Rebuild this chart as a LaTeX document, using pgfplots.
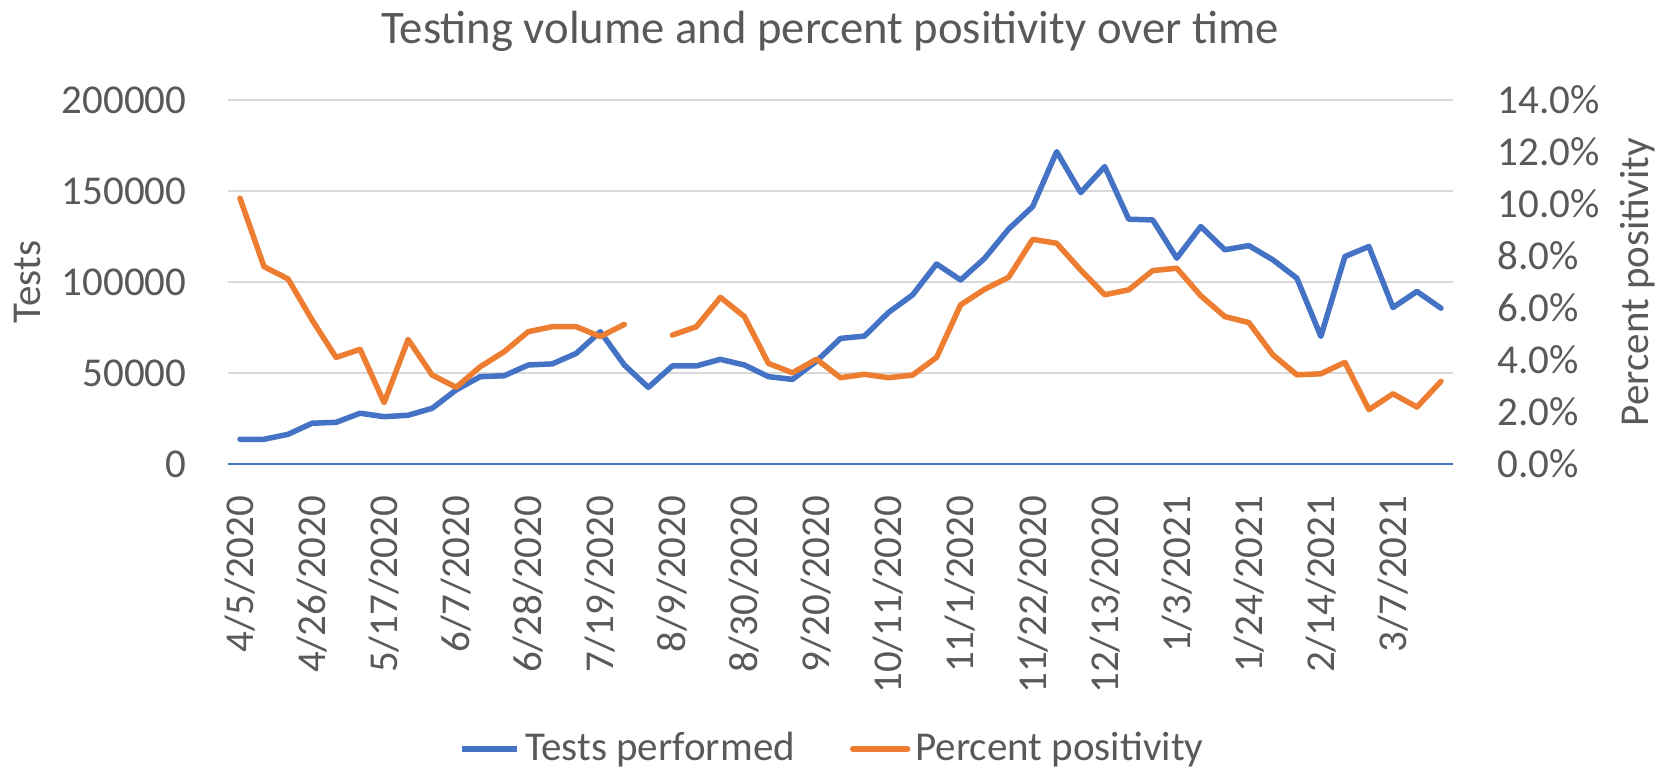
\documentclass[border=0pt]{standalone}
\usepackage{fontspec}
\setmainfont{Carlito}
\usepackage{pgfplots}
\pgfplotsset{compat=1.18}
\usepackage{pgfplotstable}
\definecolor{cblue}{HTML}{4472C4}
\definecolor{corange}{HTML}{ED7D31}
\definecolor{cgrid}{HTML}{D9D9D9}
\definecolor{ctext}{HTML}{595959}

\pgfplotstableread{
idx tests pos
0 13600 10.22
1 13600 7.59
2 16300 7.12
3 22400 5.54
4 22900 4.10
5 27900 4.41
6 26000 2.36
7 26800 4.79
8 30600 3.42
9 40700 2.95
10 48000 3.74
11 48500 4.32
12 54400 5.09
13 55000 5.28
14 60800 5.28
15 72700 4.90
16 54400 5.37
17 42100 nan
18 53900 4.96
19 53900 5.28
20 57500 6.41
21 54400 5.67
22 48000 3.87
23 46500 3.51
24 56500 4.03
25 69000 3.32
26 70300 3.45
27 83300 3.32
28 92900 3.42
29 109900 4.10
30 101100 6.12
31 113000 6.72
32 129100 7.18
33 141400 8.64
34 171600 8.49
35 149100 7.46
36 163400 6.51
37 134500 6.70
38 134100 7.44
39 113100 7.53
40 130500 6.47
41 117700 5.67
42 120000 5.44
43 112200 4.20
44 102100 3.43
45 70100 3.47
46 114000 3.91
47 119500 2.09
48 86000 2.70
49 94800 2.19
50 85600 3.18
}\datatable

\begin{document}
\begin{tikzpicture}[x=1pt,y=1pt]
\begin{axis}[
  scale only axis, width=367.5pt, height=109.2pt,
  at={(68.4pt,91.8pt)}, anchor=south west,
  clip=false,
  xmin=-0.5, xmax=50.5, ymin=0, ymax=200000,
  axis line style={draw=none}, major tick length=0pt,
  ytick={0,50000,100000,150000,200000},
  ymajorgrids, grid style={cgrid, line width=0.65pt},
  xtick={0,3,...,48},
  xticklabels={4/5/2020,4/26/2020,5/17/2020,6/7/2020,6/28/2020,7/19/2020,8/9/2020,8/30/2020,9/20/2020,10/11/2020,11/1/2020,11/22/2020,12/13/2020,1/3/2021,1/24/2021,2/14/2021,3/7/2021},
  scaled y ticks=false,
  /pgf/number format/assume math mode=true,
  yticklabel style={/pgf/number format/fixed, /pgf/number format/1000 sep={}, anchor=east, inner sep=0pt},
  yticklabel shift=12.3pt,
  xticklabel style={rotate=90, anchor=east, inner sep=0pt},
  xticklabel shift=9.3pt,
  tick label style={font=\fontsize{12.3}{14}\selectfont, text=ctext},
]
\draw[cblue, line width=0.6pt] (axis cs:-0.5,0) -- (axis cs:50.5,0);
\addplot[cblue, line width=1.65pt, line join=round, line cap=round] table[x=idx,y=tests]{\datatable};
\node[rotate=90, font=\fontsize{12.3}{14}\selectfont, text=ctext] at ([shift={(-60pt,0pt)}]rel axis cs:0,0.5) {Tests};
\end{axis}
\begin{axis}[
  scale only axis, width=367.5pt, height=109.2pt,
  at={(68.4pt,91.8pt)}, anchor=south west,
  clip=false,
  xmin=-0.5, xmax=50.5, ymin=0, ymax=14,
  axis line style={draw=none}, major tick length=0pt,
  xtick=\empty,
  ytick={0,2,...,14},
  yticklabel pos=right,
  /pgf/number format/assume math mode=true,
  yticklabel={\pgfmathprintnumber[fixed,fixed zerofill,precision=1]{\tick}\%},
  yticklabel style={anchor=west, inner sep=0pt},
  yticklabel shift=13.2pt,
  tick label style={font=\fontsize{12.3}{14}\selectfont, text=ctext},
  unbounded coords=jump,
  legend style={at={(0.4947,-0.783)}, anchor=center, draw=none, fill=none,
    legend columns=2, inner sep=0pt, font=\fontsize{12.3}{14}\selectfont, text=ctext,
    nodes={inner sep=1.5pt},
    /tikz/every even column/.append style={column sep=15pt}},
  legend image code/.code={\draw[#1, line width=1.65pt] (0pt,0pt) -- (16.5pt,0pt);},
]
\addlegendimage{cblue, line width=1.65pt}
\addlegendentry{Tests performed}
\addplot[corange, line width=1.65pt, line join=round, line cap=round] table[x=idx,y=pos]{\datatable};
\addlegendentry{Percent positivity}
\node[rotate=90, font=\fontsize{12.3}{14}\selectfont, text=ctext] at ([shift={(55.5pt,0pt)}]rel axis cs:1,0.5) {Percent positivity};
\end{axis}
\node[anchor=base, font=\fontsize{14}{16}\selectfont, text=ctext] at (249,218.1) {Testing volume and percent positivity over time};
\pgfresetboundingbox
\path[use as bounding box] (0,0) rectangle (501.3,231);
\end{tikzpicture}
\end{document}
